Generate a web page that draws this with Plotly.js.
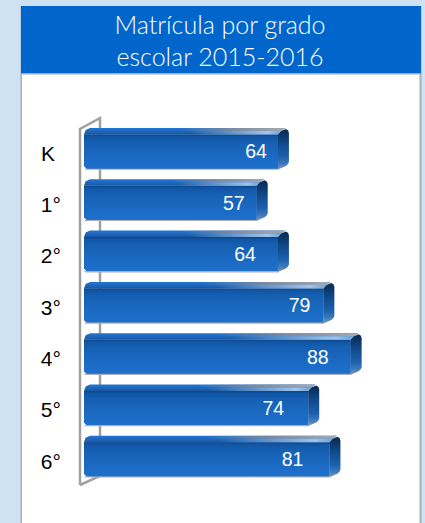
<!DOCTYPE html>
<html><head><meta charset="utf-8">
<script src="https://cdn.plot.ly/plotly-3.0.1.min.js"></script>
<style>html,body{margin:0;padding:0;background:#cfe2f3;overflow:hidden}</style>
</head><body><div id="chart" style="width:425px;height:523px"></div>
<script>
var grades = ['K','1°','2°','3°','4°','5°','6°'];
var enrollment = [64,57,64,79,88,74,81];
var gradeLabels = ['K\u00a0','1°','2°','3°','4°','5°','6°'];
var labelInset = [11,12,22,13,22,24,26];
var chartTitle = 'Matrícula por grado<br>escolar 2015-2016';

var W=425,H=523, L=70,R=421,T=74,B=523;
var k=3.03, x0=84, rowH=51.3, y0=153.5;
var dx=function(p){return p/k;}, dy=function(p){return p/rowH;};
var X=function(p){return (p-x0)/k;}, Y=function(p){return (p-y0)/rowH;};
var px=function(p){return (p-L)/(R-L);}, py=function(p){return (B-p)/(B-T);};
var idx=grades.map(function(_,i){return i;});
var FT=-19, FB=15.5, TOP=-25.5;

var traces=[{type:'bar',orientation:'h',y:idx,x:enrollment,width:dy(FB-FT),offset:dy(FT),
  marker:{color:'#1765b9',line:{width:0}},hoverinfo:'skip',showlegend:false}];

function poly(xs,ys,grad,fill){
  var t={type:'scatter',mode:'lines',x:xs,y:ys,fill:'toself',line:{width:0},hoverinfo:'skip',showlegend:false};
  if(grad) t.fillgradient=grad; else t.fillcolor=fill;
  return t;
}
function vgrad(c){return {type:'vertical',colorscale:c};}
function hgrad(c){return {type:'horizontal',colorscale:c};}

enrollment.forEach(function(v,i){
  var top=i+dy(TOP), ft=i+dy(FT), fb=i+dy(FB), D=dx(11);
  traces.push(poly([0,dx(3),0,0],[fb-dy(3),fb,fb,fb-dy(3)],null,'#ffffff'));
  traces.push(poly([dx(1),v+dx(1),v+dx(1),dx(1)],[fb-dy(0.6),fb-dy(0.6),fb+dy(0.8),fb+dy(0.8)],null,'#a9afb8'));
  traces.push(poly([0,v,v,dx(3),0],[ft,ft,fb-dy(0.6),fb-dy(0.6),fb-dy(3)],
    vgrad([[0,'#1e70cb'],[0.3,'#1b6bc4'],[0.75,'#1660b3'],[0.93,'#1156a6'],[1,'#0d4688']])));
  traces.push(poly([v,v+dx(3),v+dx(8),v+dx(10.3),v+D,v+D,v+dx(10),v+dx(8),v+dx(1),v],
    [ft,top+dy(3),top+dy(1),top+dy(2.5),top+dy(5),fb-dy(7),fb-dy(5),fb-dy(3),fb,fb],
    vgrad([[0,'#7e95b2'],[0.12,'#3f7cbe'],[0.3,'#1c60ad'],[0.6,'#124c8e'],[0.85,'#0a3667'],[1,'#092a50']])));
  traces.push(poly([0,dx(1.6),dx(6),v+dx(7),v+dx(3),v,0],[ft,top+dy(2),top,top,top+dy(3),ft,ft],
    vgrad([[0,'#1a5094'],[0.25,'#1b60b2'],[1,'#2376d3']])));
  traces.push(poly([v*0.5,v+dx(8),v+dx(3),v*0.5],[top,top,top+dy(3),top+dy(3)],
    hgrad([[0,'rgba(140,145,155,0)'],[0.5,'rgba(140,145,155,0.85)'],[1,'rgba(165,170,178,1)']])));
  traces.push(poly([v*0.55,v+dx(3),v,v*0.55],[top+dy(3),top+dy(3),ft,ft],
    hgrad([[0,'rgba(190,222,250,0)'],[0.85,'rgba(190,222,250,0.8)'],[1,'rgba(150,195,235,0.7)']])));
});

traces.push({type:'scatter',mode:'text',
  x:enrollment.map(function(v,i){return v-dx(labelInset[i]);}),y:idx.map(function(i){return i;}),
  text:enrollment.map(String),textposition:'middle left',
  textfont:{family:'Liberation Sans',size:19.5,color:'#ffffff'},hoverinfo:'skip',showlegend:false});

var gray='#a0a0a0';
var shapes=[
  {type:'rect',xref:'paper',yref:'paper',x0:px(21),x1:px(421),y0:py(6),y1:py(523),fillcolor:'#ffffff',line:{width:0},layer:'below'},
  {type:'rect',xref:'paper',yref:'paper',x0:px(20.5),x1:px(22),y0:py(6),y1:py(523),fillcolor:'#a8b0b8',line:{width:0},layer:'below'},
  {type:'rect',xref:'paper',yref:'paper',x0:px(419.5),x1:px(421.5),y0:py(6),y1:py(523),fillcolor:'#a8b0b8',line:{width:0},layer:'below'},
  {type:'rect',xref:'paper',yref:'paper',x0:px(21),x1:px(421),y0:py(6),y1:py(73),fillcolor:'#0066cc',line:{width:0},layer:'below'},
  {type:'rect',xref:'paper',yref:'paper',x0:px(21),x1:px(421),y0:py(73),y1:py(74.5),fillcolor:'#a0a8b0',line:{width:0},layer:'below'},
  {type:'path',xref:'x',yref:'y',layer:'below',line:{color:gray,width:2.5},
   path:'M'+X(80)+','+Y(485)+' L'+X(80)+','+Y(129)+' L'+X(100)+','+Y(118)+' L'+X(100)+','+Y(476)+' L'+X(80)+','+Y(485)}
];

var layout={width:W,height:H,margin:{l:L,r:W-R,t:T,b:H-B,pad:0},
  paper_bgcolor:'#cfe2f3',plot_bgcolor:'rgba(0,0,0,0)',showlegend:false,barmode:'overlay',
  title:{text:chartTitle,x:220/W,xanchor:'center',y:1-33.5/H,yanchor:'middle',
    font:{family:'Lato',weight:300,size:25,color:'#ffffff'}},
  xaxis:{range:[X(L),X(R)],visible:false,fixedrange:true},
  yaxis:{range:[Y(B),Y(T)],tickmode:'array',tickvals:idx,ticktext:gradeLabels,showgrid:false,zeroline:false,showline:false,
    ticks:'outside',ticklen:4,tickcolor:'rgba(0,0,0,0)',fixedrange:true,
    tickfont:{family:'Liberation Sans',size:21,color:'#000000'}},
  shapes:shapes};
Plotly.newPlot('chart',traces,layout,{displayModeBar:false,staticPlot:true});
</script></body></html>
